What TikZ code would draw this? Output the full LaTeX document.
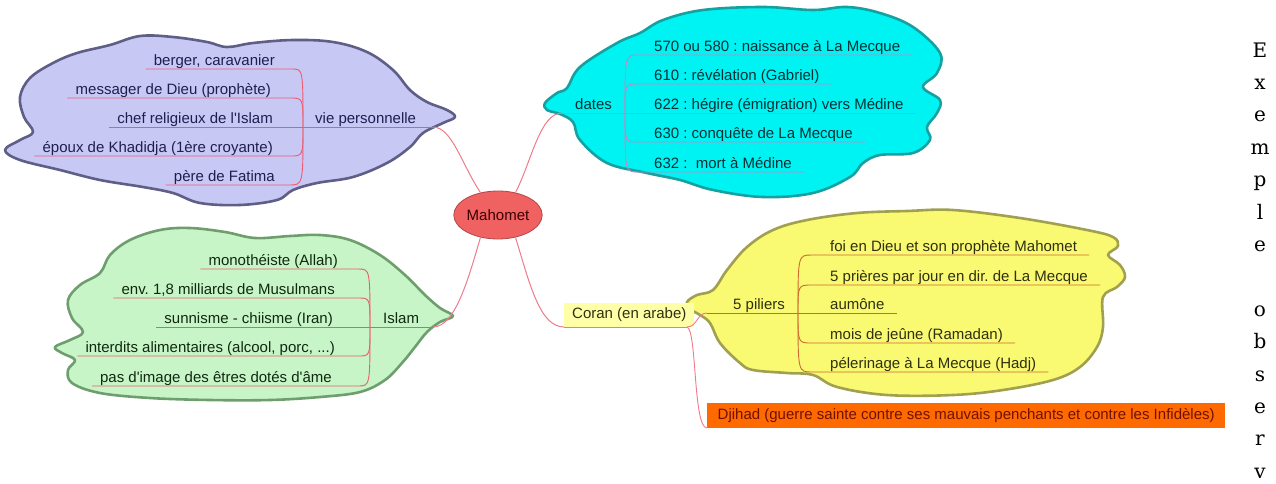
\documentclass[tikz,border=0pt]{standalone}
\usepackage{fontspec}
\newfontfamily\arialf{Liberation Sans}
\newfontfamily\vserif{DejaVu Serif}
\usetikzlibrary{shapes.geometric}
\frenchspacing
\definecolor{purpleFill}{HTML}{C8C8F5}
\definecolor{purpleLine}{HTML}{5E5E86}
\definecolor{greenFill}{HTML}{C8F5C8}
\definecolor{greenLine}{HTML}{6E9E6E}
\definecolor{cyanFill}{HTML}{00F3F3}
\definecolor{cyanLine}{HTML}{16A0A0}
\definecolor{yellowFill}{HTML}{F9F972}
\definecolor{yellowLine}{HTML}{A0A050}
\definecolor{mahFill}{HTML}{F06262}
\definecolor{mahLine}{HTML}{B04848}
\definecolor{coranFill}{HTML}{FFFFA8}
\definecolor{djFill}{HTML}{FF6A00}
\definecolor{pinkLine}{HTML}{EE5A70}
\definecolor{mauveLine}{HTML}{D080C0}
\definecolor{orangeLine}{HTML}{D06A30}
\definecolor{mainLine}{HTML}{EE7A8A}
\definecolor{purpleText}{HTML}{1E1E50}
\definecolor{greenText}{HTML}{102810}
\definecolor{cyanText}{HTML}{053035}
\definecolor{yellowText}{HTML}{303010}
\definecolor{djText}{HTML}{701000}
\definecolor{mahText}{HTML}{3A0000}
\tikzset{
  lbl/.style={inner sep=0pt, font=\arialf\frenchspacing\fontsize{15}{18}\selectfont},
  ptxt/.style={lbl, text=purpleText},
  gtxt/.style={lbl, text=greenText},
  ctxt/.style={lbl, text=cyanText},
  ytxt/.style={lbl, text=yellowText},
  cloudshape/.style={line width=2.6pt, line join=round},
  pline/.style={draw=pinkLine, line width=0.9pt},
  gline/.style={draw=pinkLine, line width=0.9pt},
  cline/.style={draw=mauveLine, line width=0.9pt},
  yline/.style={draw=orangeLine, line width=0.9pt},
  coline/.style={draw=mainLine, line width=0.9pt},
  mline/.style={draw=mainLine, line width=1pt},
  vl/.style={inner sep=0pt, font=\vserif\fontsize{20}{24}\selectfont, text=black},
}
\begin{document}
\begin{tikzpicture}[x=1pt,y=-1pt]
\useasboundingbox (0,0) rectangle (1276,483);

% clouds
\filldraw[cloudshape, fill=purpleFill, draw=purpleLine] plot[smooth cycle, tension=0.6] coordinates {
 (5,150) (20,140) (33,132) (24,117) (20,97) (30,78) (53,63) (77,53) (110,45) (140,36) (173,37) (207,42) (227,47) (253,43) (293,40) (333,42) (367,52) (393,70) (410,90) (427,102) (447,110) (455,117) (443,123) (423,133) (410,147) (387,163) (353,177) (317,183) (293,190) (277,200) (240,205) (200,203) (173,193) (143,187) (100,180) (60,170) (20,160)};
\filldraw[cloudshape, fill=greenFill, draw=greenLine] plot[smooth cycle, tension=0.6] coordinates {
 (55,347) (70,340) (83,332) (72,318) (68,300) (80,285) (100,273) (110,255) (130,240) (160,230) (190,228) (225,232) (255,238) (290,236) (320,235) (350,240) (380,255) (405,275) (425,295) (440,308) (453,316) (440,322) (427,332) (415,347) (402,363) (385,380) (360,392) (320,397) (270,400) (210,400) (150,398) (100,393) (72,383) (68,370) (75,360) (62,353)};
\filldraw[cloudshape, fill=cyanFill, draw=cyanLine] plot[smooth cycle, tension=0.6] coordinates {
 (545,103) (557,93) (567,88) (580,67) (617,43) (640,33) (663,20) (703,10) (763,7) (813,10) (847,7) (880,13) (913,27) (940,53) (937,73) (923,87) (940,100) (937,113) (927,127) (930,140) (913,153) (880,155) (863,163) (850,177) (813,193) (763,197) (713,190) (680,180) (647,173) (607,163) (580,140) (573,122) (560,114) (547,110)};
\filldraw[cloudshape, fill=yellowFill, draw=yellowLine] plot[smooth cycle, tension=0.6] coordinates {
 (687,302) (697,295) (713,290) (727,270) (747,247) (773,230) (807,220) (857,213) (907,211) (953,210) (1020,218) (1087,230) (1113,237) (1118,246) (1108,255) (1120,265) (1125,277) (1117,287) (1103,297) (1103,327) (1097,347) (1080,367) (1053,380) (1003,390) (953,395) (887,395) (837,387) (813,375) (787,373) (753,370) (740,363) (720,343) (710,323) (700,315) (690,309)};

% central node
\node[ellipse, fill=mahFill, draw=mahLine, line width=0.8pt, minimum width=86pt, minimum height=48pt, inner sep=0pt, font=\arialf\fontsize{15}{18}\selectfont, text=mahText] (m) at (498,215) {Mahomet};

% vie personnelle
\coordinate (jv) at (303,127);
\coordinate (ve) at (433,127);
\node[ptxt, anchor=base west] (vp) at (315,123) {vie personnelle};
\draw[pline] (jv) -- (ve);
\node[ptxt, anchor=base east] (p1) at (275,65) {berger, caravanier};
\node[ptxt, anchor=base east] (p2) at (271,94) {messager de Dieu (prophète)};
\node[ptxt, anchor=base east] (p3) at (273,123) {chef religieux de l'Islam};
\node[ptxt, anchor=base east] (p4) at (273,152) {époux de Khadidja (1ère croyante)};
\node[ptxt, anchor=base east] (p5) at (275,181) {père de Fatima};
\draw[pline] ([shift={(-8,4)}]p1.base west) -- (292,69) .. controls (303,69) and (303,69) .. (jv);
\draw[pline] ([shift={(-8,4)}]p2.base west) -- (290,98) .. controls (303,98) and (303,98) .. (jv);
\draw[pline] ([shift={(-8,4)}]p3.base west) -- (jv);
\draw[pline] ([shift={(-8,4)}]p4.base west) -- (290,156) .. controls (303,156) and (303,156) .. (jv);
\draw[pline] ([shift={(-8,4)}]p5.base west) -- (289,185) .. controls (303,185) and (303,185) .. (jv);

% Islam
\coordinate (jg) at (370,327);
\coordinate (ge) at (433,327);
\node[gtxt, anchor=base west] (isl) at (383,323) {Islam};
\draw[gline] (jg) -- (ge);
\node[gtxt, anchor=base east] (g1) at (338,265) {monothéiste (Allah)};
\node[gtxt, anchor=base east] (g2) at (335,294) {env. 1,8 milliards de Musulmans};
\node[gtxt, anchor=base east] (g3) at (333,323) {sunnisme - chiisme (Iran)};
\node[gtxt, anchor=base east] (g4) at (335,352) {interdits alimentaires (alcool, porc, ...)};
\node[gtxt, anchor=base east] (g5) at (332,382) {pas d'image des êtres dotés d'âme};
\draw[gline] ([shift={(-8,4)}]g1.base west) -- (358,269) .. controls (370,269) and (370,269) .. (jg);
\draw[gline] ([shift={(-8,4)}]g2.base west) -- (358,298) .. controls (370,298) and (370,298) .. (jg);
\draw[gline] ([shift={(-8,4)}]g3.base west) -- (jg);
\draw[gline] ([shift={(-8,4)}]g4.base west) -- (358,356) .. controls (370,356) and (370,356) .. (jg);
\draw[gline] ([shift={(-8,4)}]g5.base west) -- (358,386) .. controls (370,386) and (370,386) .. (jg);

% dates
\coordinate (jd) at (625,113);
\coordinate (ds) at (562,113);
\node[ctxt, anchor=base west] (dt) at (575,109) {dates};
\draw[cline] (ds) -- (jd);
\node[ctxt, anchor=base west] (c1) at (654,51) {570 ou 580 : naissance à La Mecque};
\node[ctxt, anchor=base west] (c2) at (654,80) {610 : révélation (Gabriel)};
\node[ctxt, anchor=base west] (c3) at (654,109) {622 : hégire (émigration) vers Médine};
\node[ctxt, anchor=base west] (c4) at (654,138) {630 : conquête de La Mecque};
\node[ctxt, anchor=base west] (c5) at (654,168) {632 : \ mort à Médine};
\draw[cline] (jd) .. controls (625,55) and (625,55) .. (638,55) -- ([shift={(12,4)}]c1.base east);
\draw[cline] (jd) .. controls (625,84) and (625,84) .. (638,84) -- ([shift={(12,4)}]c2.base east);
\draw[cline] (jd) -- ([shift={(12,4)}]c3.base east);
\draw[cline] (jd) .. controls (625,142) and (625,142) .. (638,142) -- ([shift={(12,4)}]c4.base east);
\draw[cline] (jd) .. controls (625,172) and (625,172) .. (638,172) -- ([shift={(12,4)}]c5.base east);

% 5 piliers
\coordinate (jy) at (798,313);
\coordinate (ys) at (707,313);
\node[ytxt, anchor=base west] (pil) at (733,309) {5 piliers};
\draw[yline] (ys) -- (jy);
\node[ytxt, anchor=base west] (y1) at (830,251) {foi en Dieu et son prophète Mahomet};
\node[ytxt, anchor=base west] (y2) at (830,281) {5 prières par jour en dir. de La Mecque};
\node[ytxt, anchor=base west] (y3) at (830,309) {aumône};
\node[ytxt, anchor=base west] (y4) at (830,339) {mois de jeûne (Ramadan)};
\node[ytxt, anchor=base west] (y5) at (830,368) {pélerinage à La Mecque (Hadj)};
\draw[yline] (jy) .. controls (798,255) and (798,255) .. (812,255) -- ([shift={(12,4)}]y1.base east);
\draw[yline] (jy) .. controls (798,285) and (798,285) .. (812,285) -- ([shift={(12,4)}]y2.base east);
\draw[yline] (jy) -- ([shift={(12,4)}]y3.base east);
\draw[yline] (jy) .. controls (798,343) and (798,343) .. (812,343) -- ([shift={(12,4)}]y4.base east);
\draw[yline] (jy) .. controls (798,372) and (798,372) .. (812,372) -- ([shift={(12,4)}]y5.base east);

% Coran and Djihad
\node[lbl, fill=coranFill, anchor=south west, minimum height=24pt, inner xsep=8pt, text=yellowText] (cor) at (564,327) {Coran (en arabe)};
\node[lbl, fill=djFill, anchor=south west, minimum height=25pt, minimum width=518pt, inner xsep=6pt, text=djText, align=left] (dj) at (707,428) {Djihad (guerre sainte contre ses mauvais penchants et contre les Infidèles)\hfill};
\coordinate (ce) at (687,327);
\draw[coline] (cor.south west) -- (ce);
\draw[coline] (ce) .. controls (697,327) and (697,313) .. (ys);
\draw[coline] (ce) .. controls (697,330) and (693,428) .. (dj.south west);

% main connectors
\draw[mline] (ve) .. controls (452,127) and (462,165) .. (m.128);
\draw[mline] (m.52) .. controls (532,160) and (540,113) .. (ds);
\draw[mline] (m.232) .. controls (468,280) and (455,327) .. (ge);
\draw[mline] (m.308) .. controls (530,285) and (540,327) .. (cor.south west);

% vertical text
\foreach \i/\ch in {0/E,1/x,2/e,3/m,4/p,5/l,6/e,8/o,9/b,10/s,11/e,12/r,13/v} {
  \node[vl, anchor=base] (v\i) at (1260,{57+32.4*\i}) {\ch};
}
\end{tikzpicture}
\end{document}
